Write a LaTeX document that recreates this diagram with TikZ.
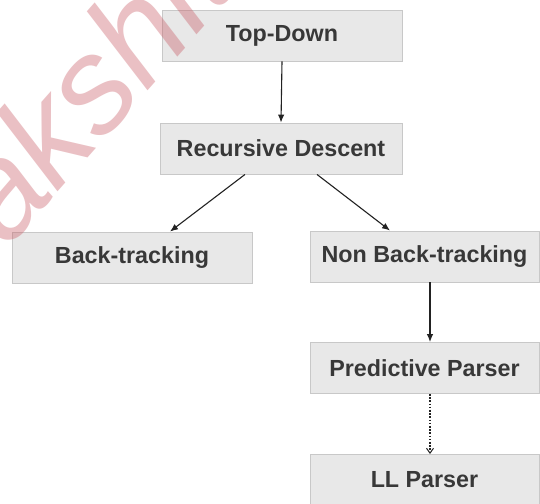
\documentclass[tikz,border=0pt]{standalone}
\usepackage{fontspec}
\setmainfont{Liberation Sans}
\usetikzlibrary{arrows.meta}
\definecolor{boxfill}{HTML}{E8E8E8}
\definecolor{boxline}{HTML}{C8C8C8}
\definecolor{boxtext}{HTML}{383838}
\definecolor{linkcol}{HTML}{222222}
\definecolor{markcol}{RGB}{200,90,100}
\tikzset{
  box/.style={draw=boxline, fill=boxfill, line width=0.9pt, minimum height=51pt,
    inner sep=0pt, text=boxtext, font=\bfseries\fontsize{23.3}{26}\selectfont},
  link/.style={draw=linkcol, line width=1.1pt, -{Latex[length=8pt,width=6.5pt]}},
  dotlink/.style={draw=linkcol, line width=1.1pt, dash pattern=on 1.6pt off 1.6pt,
    -{Straight Barb[length=5pt,width=7pt,line width=1pt]}},
  wmark/.style={text=markcol, opacity=0.38, font=\itshape\fontsize{135}{135}\selectfont,
    rotate=48.5, anchor=base west, inner sep=0pt}
}
\begin{document}
\begin{tikzpicture}[x=1pt,y=-1pt]
  \useasboundingbox (0,0) rectangle (540,503);
  \clip (0,0) rectangle (540,503);
  \fill[white] (0,0) rectangle (540,503);

  % parser family tree
  \node[box, minimum width=240pt] (td)  at (282,35.5)  {Top-Down};
  \node[box, minimum width=242pt] (rd)  at (281,148.5) {Recursive Descent};
  \node[box, minimum width=240pt] (bt)  at (132,257.5) {Back-tracking};
  \node[box, minimum width=229pt] (nbt) at (424.5,256.5) {Non Back-tracking};
  \node[box, minimum width=229pt] (pp)  at (424.5,368)  {Predictive Parser};
  \node[box, minimum width=229pt] (ll)  at (424.5,480)  {LL Parser};

  \draw[link] (td.south) -- (rd.north);
  \draw[link] ([xshift=-36pt]rd.south) -- ([xshift=38pt]bt.north);
  \draw[link] ([xshift=36pt]rd.south) -- ([xshift=-34.5pt]nbt.north);
  \draw[link] ([xshift=5.5pt]nbt.south) -- ([xshift=5.5pt]pp.north);
  \draw[dotlink] ([xshift=5.5pt]pp.south) -- ([xshift=5.5pt]ll.north);

  % watermark across the upper left
  \node[wmark] (wm) at (-57.7,323) {Rakshit};
\end{tikzpicture}
\end{document}
